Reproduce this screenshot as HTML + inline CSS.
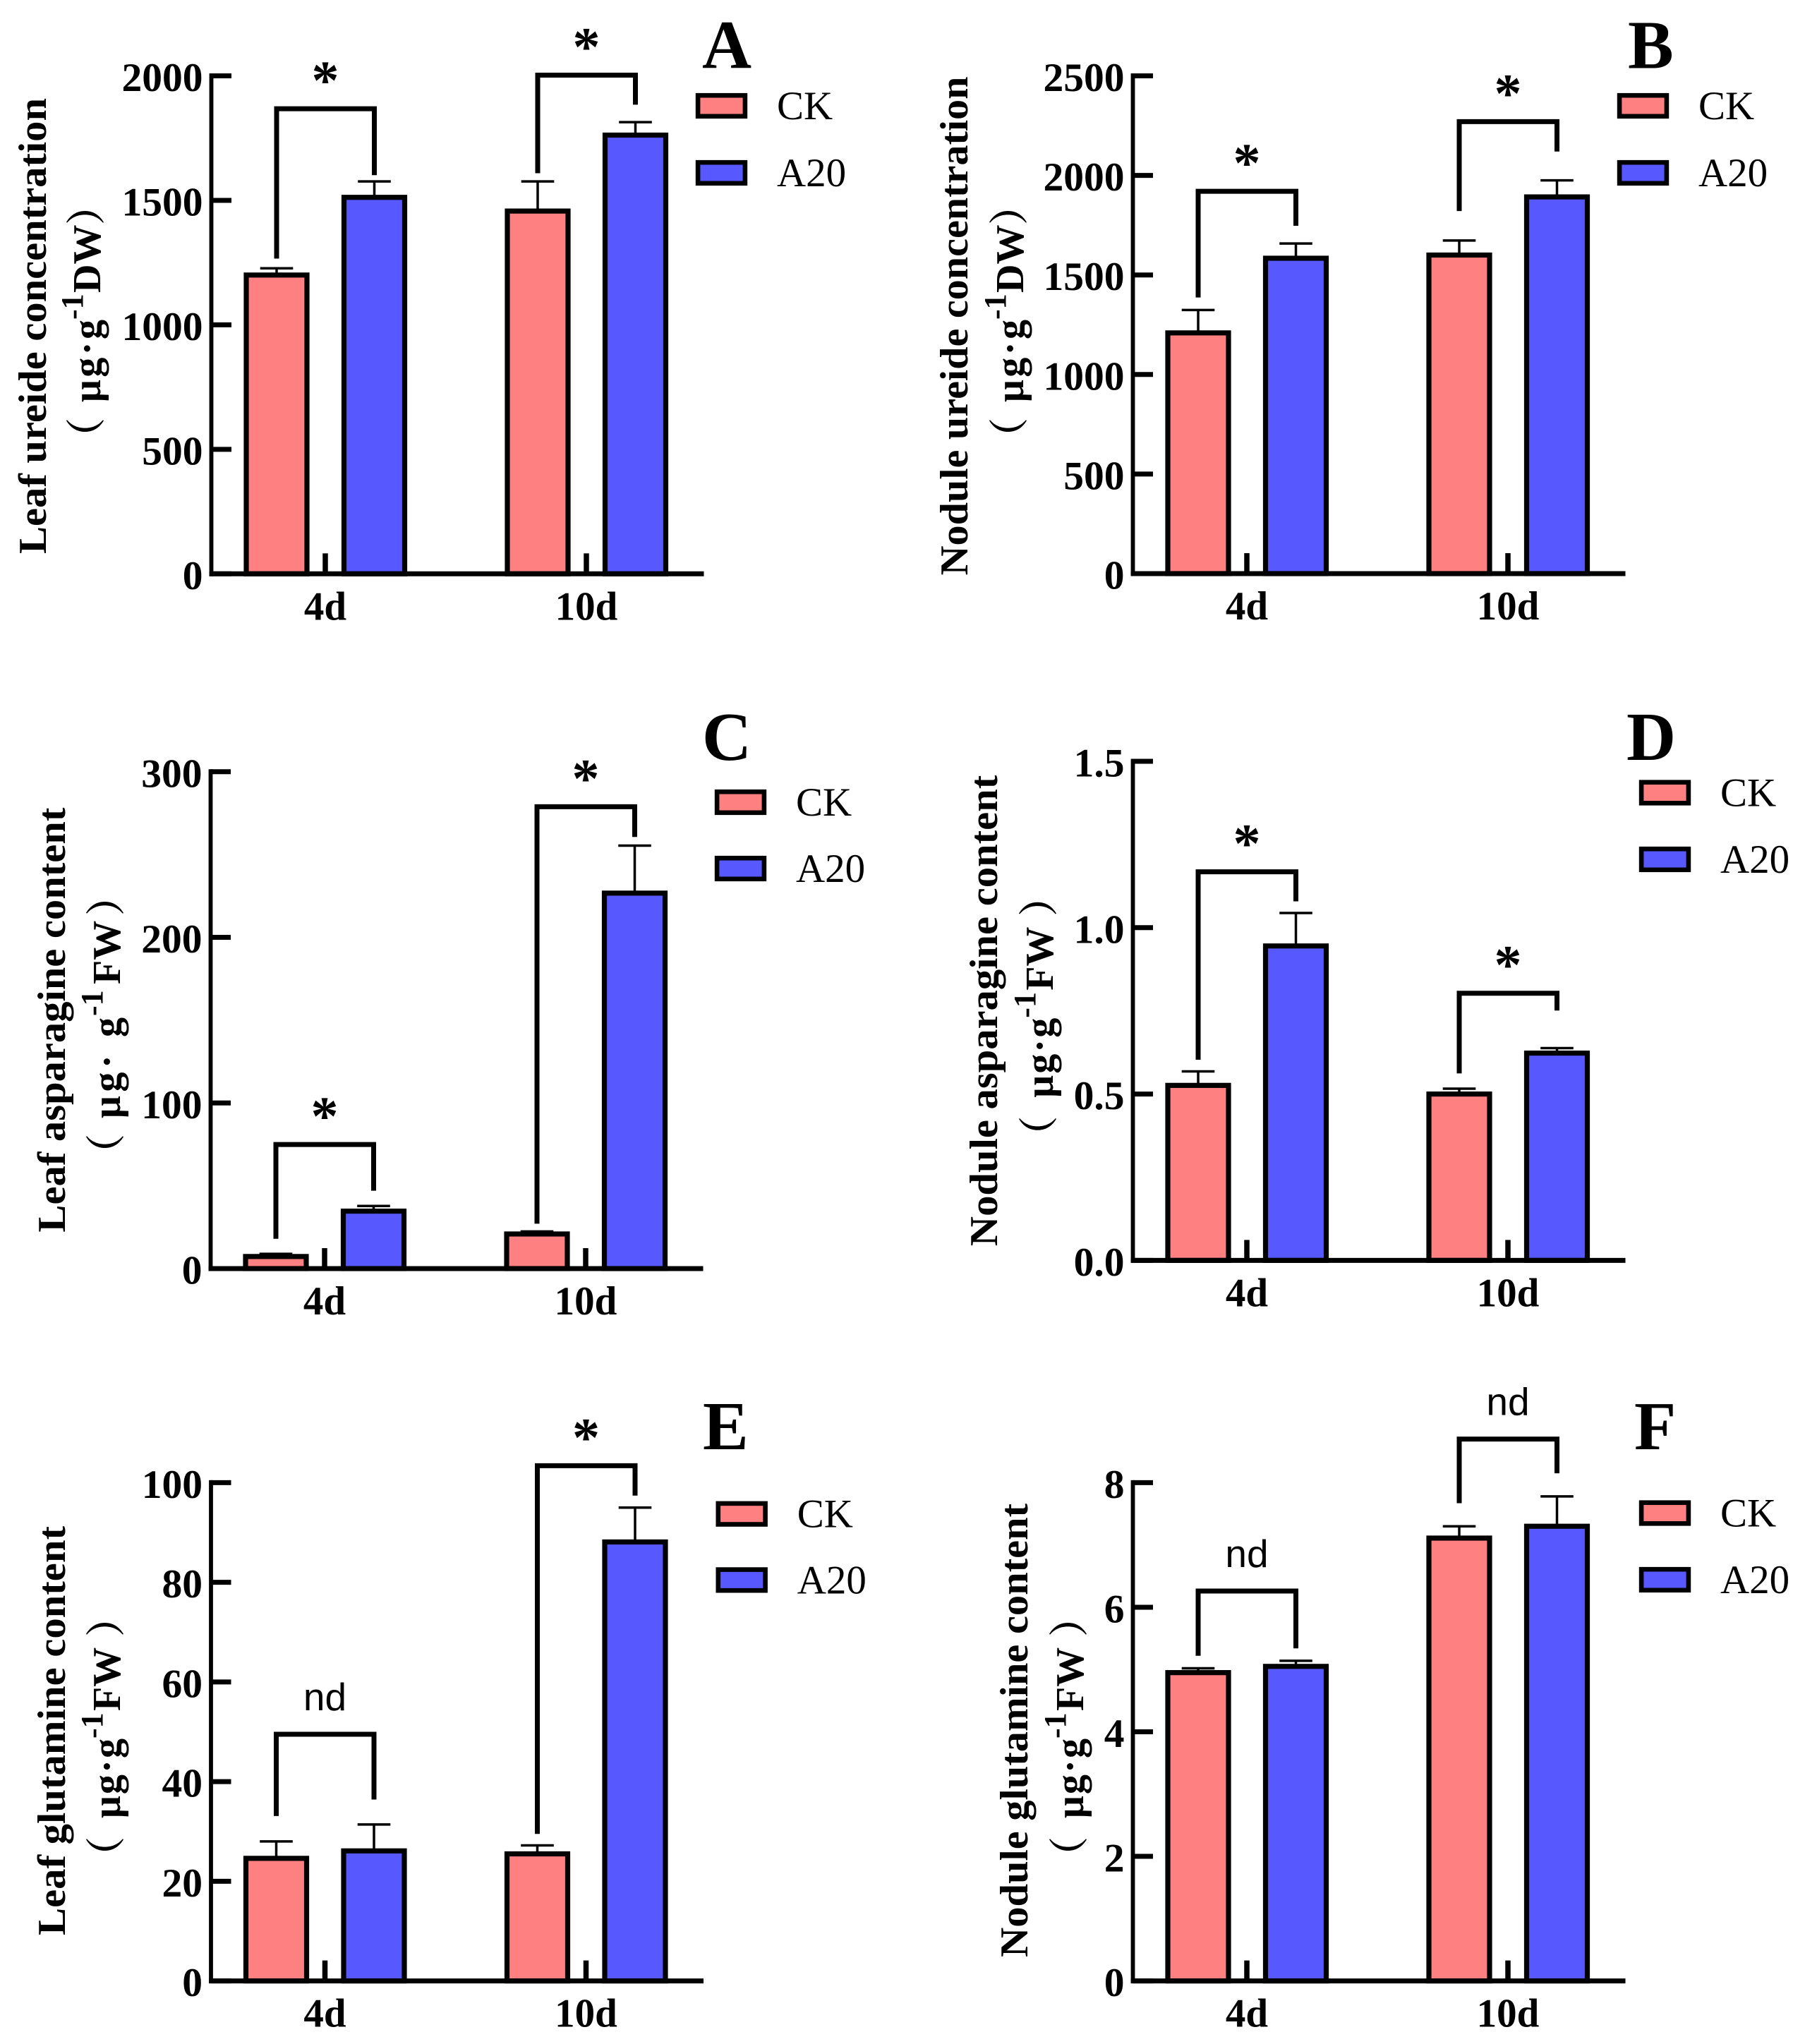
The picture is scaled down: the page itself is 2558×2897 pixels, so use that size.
<!DOCTYPE html>
<html lang="en">
<head>
<meta charset="utf-8">
<title>Ureide, asparagine and glutamine content</title>
<style>
html,body{margin:0;padding:0;background:#fff;}
#figure{display:block;}
text{font-family:"Liberation Serif","Noto Serif CJK SC",serif;fill:#000;}
</style>
</head>
<body>
<svg id="figure" xmlns="http://www.w3.org/2000/svg" width="2558" height="2897" viewBox="0 0 2558 2897"></svg>
<script>
const groups = ['4d', '10d'];
const seriesNames = ['CK', 'A20'];

const ticksA = ['0', '500', '1000', '1500', '2000'];
const ckA = [1200, 1457];
const ckErrA = [27, 119];
const a20A = [1512, 1762];
const a20ErrA = [64, 52];
const bracketTopA = [1868, 2003];
const bracketLeftA = [1266, 1609];
const bracketRightA = [1601, 1884];
const signifA = ['*', '*'];

const ticksB = ['0', '500', '1000', '1500', '2000', '2500'];
const ckB = [1209, 1600];
const ckErrB = [115, 73];
const a20B = [1584, 1892];
const a20ErrB = [74, 83];
const bracketTopB = [1920, 2270];
const bracketLeftB = [1387, 1821];
const bracketRightB = [1747, 2120];
const signifB = ['*', '*'];

const ticksC = ['0', '100', '200', '300'];
const ckC = [7.3, 20.9];
const ckErrC = [1.6, 1.5];
const a20C = [34.7, 226.7];
const a20ErrC = [3.1, 28.7];
const bracketTopC = [74.9, 278.9];
const bracketLeftC = [18, 27.1];
const bracketRightC = [47, 260.6];
const signifC = ['*', '*'];

const ticksD = ['0.0', '0.5', '1.0', '1.5'];
const ckD = [0.526, 0.5];
const ckErrD = [0.042, 0.016];
const a20D = [0.945, 0.623];
const a20ErrD = [0.099, 0.015];
const bracketTopD = [1.168, 0.803];
const bracketLeftD = [0.603, 0.562];
const bracketRightD = [1.079, 0.751];
const signifD = ['*', '*'];

const ticksE = ['0', '20', '40', '60', '80', '100'];
const ckE = [24.6, 25.5];
const ckErrE = [3.4, 1.7];
const a20E = [26.1, 88.1];
const a20ErrE = [5.3, 6.9];
const bracketTopE = [49.5, 103.4];
const bracketLeftE = [33.1, 29.5];
const bracketRightE = [36.4, 97.4];
const signifE = ['nd', '*'];

const ticksF = ['0', '2', '4', '6', '8'];
const ckF = [4.95, 7.11];
const ckErrF = [0.07, 0.19];
const a20F = [5.05, 7.3];
const a20ErrF = [0.09, 0.48];
const bracketTopF = [6.26, 8.7];
const bracketLeftF = [5.22, 7.67];
const bracketRightF = [5.34, 8.15];
const signifF = ['nd', 'nd'];

const COLORS = ['#FF8080', '#5858FF'];
const svg = document.getElementById('figure');
const NS = 'http://www.w3.org/2000/svg';

const UNIT_DW = {mu: '\u03BCg\u00B7g', muAt: 43, muLen: 117, supAt: 160, unit: 'DW', unitAt: 198, closeEnd: 315};
const UNIT_FW = {mu: '\u03BCg\u00B7g', muAt: 47, muLen: 113, supAt: 160, unit: 'FW', unitAt: 199, closeEnd: 325};
const UNIT_FW_SPACED = {mu: '\u03BCg\u00B7 g', muAt: 43, muLen: 143, supAt: 188, unit: 'FW', unitAt: 233, closeEnd: 351};

function mk(tag, attrs, parent, txt) {
  const el = document.createElementNS(NS, tag);
  for (const k in attrs) el.setAttribute(k, attrs[k]);
  if (txt !== undefined) el.textContent = txt;
  parent.appendChild(el);
  return el;
}

function drawPanel(p) {
  const g = mk('g', {}, svg);
  
  

  const max = parseFloat(p.ticks[p.ticks.length - 1]);
  const yScale = v => p.bottom - (v / max) * (p.bottom - p.top);
  const groupX = i => p.ax + 161.5 + i * 370;
  const barX = (i, s) => groupX(i) + (s === 0 ? -69 : 69.5);

  // bars and error bars
  [[p.ck, p.ckErr], [p.a20, p.a20Err]].forEach((series, s) => {
    series[0].forEach((v, i) => {
      const cx = barX(i, s);
      const yTop = yScale(v);
      const yErr = yScale(v + series[1][i]);
      const stem = mk('line', {x1: cx, x2: cx, y1: yTop, y2: yErr, stroke: '#000', 'stroke-width': 3.5}, g);
      
      
      const cap = mk('line', {x1: cx - 23.3, x2: cx + 23.3, y1: yErr, y2: yErr, stroke: '#000', 'stroke-width': 3.5}, g);
      
      
      const bar = mk('rect', {x: cx - 43, y: yTop, width: 86, height: p.bottom - yTop, fill: COLORS[s], stroke: '#000', 'stroke-width': 7.2}, g);
      
      
    });
  });

  // y axis
  const yAxis = mk('line', {x1: p.ax, x2: p.ax, y1: p.top - 3.5, y2: p.bottom + 3.4, stroke: '#000', 'stroke-width': 5.8}, g);
  
  
  p.ticks.forEach(t => {
    const y = yScale(parseFloat(t));
    const tick = mk('line', {x1: p.ax, x2: p.ax + 28.5, y1: y, y2: y, stroke: '#000', 'stroke-width': 7}, g);
    
    
    const lab = mk('text', {x: p.ax - 12, y: y + 21.5, 'text-anchor': 'end', 'font-size': 57.5, 'font-weight': 'bold'}, g, t);
    
    
  });

  // x axis
  const xAxis = mk('line', {x1: p.ax - 2.9, x2: p.ax + 698, y1: p.bottom, y2: p.bottom, stroke: '#000', 'stroke-width': 7}, g);
  
  
  groups.forEach((name, i) => {
    const x = groupX(i);
    const tick = mk('line', {x1: x, x2: x, y1: p.bottom - 29, y2: p.bottom, stroke: '#000', 'stroke-width': 7.5}, g);
    
    
    const lab = mk('text', {x: x, y: p.bottom + 65, 'text-anchor': 'middle', 'font-size': 57, 'font-weight': 'bold'}, g, name);
    
    
  });

  // significance brackets
  groups.forEach((name, i) => {
    const xl = barX(i, 0), xr = barX(i, 1);
    const yt = yScale(p.brTop[i]);
    const br = mk('path', {d: 'M' + xl + ' ' + yScale(p.brLeft[i]) + ' V' + yt + ' H' + xr + ' V' + yScale(p.brRight[i]), fill: 'none', stroke: '#000', 'stroke-width': 7}, g);
    
    
    const mark = p.sig[i];
    const isStar = mark === '*';
    const t = mk('text', {x: groupX(i), y: isStar ? yt - 14 : yt - 34, 'text-anchor': 'middle', 'font-size': isStar ? 78 : 55, 'font-weight': isStar ? 'bold' : 'normal'}, g, mark);
    if (!isStar) t.style.fontFamily = '"Liberation Sans",sans-serif';
    
    
  });

  // y axis title, two rotated lines
  const t1 = mk('text', {transform: 'translate(' + p.t1x + ' ' + p.t1c + ') rotate(-90)', 'text-anchor': 'middle', 'font-size': 56, 'font-weight': 'bold', textLength: p.t1len, lengthAdjust: 'spacingAndGlyphs'}, g, p.title);
  
  
  const u = p.unitStyle;
  const t2 = mk('text', {transform: 'translate(' + p.t2x + ' ' + p.t2y + ') rotate(-90)', 'font-size': 56, 'font-weight': 'bold'}, g);
  
  
  mk('tspan', {x: -35, y: 0}, t2, '\uFF08');
  mk('tspan', {x: u.muAt, y: 0, textLength: u.muLen}, t2, u.mu);
  mk('tspan', {x: u.supAt, y: -25, 'font-size': 44}, t2, '-1');
  mk('tspan', {x: u.unitAt, y: 0}, t2, u.unit);
  mk('tspan', {x: u.closeEnd - 21, y: 0}, t2, '\uFF09');

  // panel letter
  const letter = mk('text', {x: p.lx, y: p.ly, 'font-size': 97, 'font-weight': 'bold'}, g, p.id);
  
  

  // legend
  seriesNames.forEach((name, s) => {
    const y = p.lgY[s];
    const sw = mk('rect', {x: p.lgX + 3.1, y: y + 3.2, width: 66.8, height: 29.6, fill: COLORS[s], stroke: '#000', 'stroke-width': 6.6}, g);
    
    
    const lt = mk('text', {x: p.lgX + 115, y: y + 37, 'font-size': 57}, g, name);
    
    
  });
}

drawPanel({id: 'A', ax: 299.5, top: 107.5, bottom: 813.3, ticks: ticksA, ck: ckA, ckErr: ckErrA, a20: a20A, a20Err: a20ErrA,
  brTop: bracketTopA, brLeft: bracketLeftA, brRight: bracketRightA, sig: signifA,
  title: 'Leaf ureide concentration', t1x: 65, t1c: 462, t1len: 646,
  unitStyle: UNIT_DW, t2x: 142, t2y: 613,
  lx: 995, ly: 96.7, lgX: 986, lgY: [132, 227]});

drawPanel({id: 'B', ax: 1605.5, top: 107.5, bottom: 813, ticks: ticksB, ck: ckB, ckErr: ckErrB, a20: a20B, a20Err: a20ErrB,
  brTop: bracketTopB, brLeft: bracketLeftB, brRight: bracketRightB, sig: signifB,
  title: 'Nodule ureide concentration', t1x: 1371, t1c: 462, t1len: 707,
  unitStyle: UNIT_DW, t2x: 1450, t2y: 613,
  lx: 2307, ly: 96.7, lgX: 2292, lgY: [132, 227]});

drawPanel({id: 'C', ax: 298.5, top: 1093.8, bottom: 1798, ticks: ticksC, ck: ckC, ckErr: ckErrC, a20: a20C, a20Err: a20ErrC,
  brTop: bracketTopC, brLeft: bracketLeftC, brRight: bracketRightC, sig: signifC,
  title: 'Leaf asparagine content', t1x: 92, t1c: 1445.6, t1len: 602,
  unitStyle: UNIT_FW_SPACED, t2x: 170, t2y: 1628,
  lx: 995, ly: 1077, lgX: 1013, lgY: [1119, 1213]});

drawPanel({id: 'D', ax: 1605.5, top: 1079, bottom: 1786.4, ticks: ticksD, ck: ckD, ckErr: ckErrD, a20: a20D, a20Err: a20ErrD,
  brTop: bracketTopD, brLeft: bracketLeftD, brRight: bracketRightD, sig: signifD,
  title: 'Nodule asparagine content', t1x: 1413, t1c: 1432.5, t1len: 667.5,
  unitStyle: UNIT_FW, t2x: 1492, t2y: 1602.7,
  lx: 2305, ly: 1077, lgX: 2323, lgY: [1105.5, 1200]});

drawPanel({id: 'E', ax: 299, top: 2101.4, bottom: 2807.6, ticks: ticksE, ck: ckE, ckErr: ckErrE, a20: a20E, a20Err: a20ErrE,
  brTop: bracketTopE, brLeft: bracketLeftE, brRight: bracketRightE, sig: signifE,
  title: 'Leaf glutamine content', t1x: 92, t1c: 2453, t1len: 580,
  unitStyle: UNIT_FW, t2x: 170, t2y: 2624,
  lx: 996, ly: 2054, lgX: 1014.7, lgY: [2127.7, 2221.4]});

drawPanel({id: 'F', ax: 1605.5, top: 2101.4, bottom: 2807.6, ticks: ticksF, ck: ckF, ckErr: ckErrF, a20: a20F, a20Err: a20ErrF,
  brTop: bracketTopF, brLeft: bracketLeftF, brRight: bracketRightF, sig: signifF,
  title: 'Nodule glutamine content', t1x: 1456, t1c: 2452.5, t1len: 643,
  unitStyle: UNIT_FW, t2x: 1535, t2y: 2624,
  lx: 2316, ly: 2054, lgX: 2323, lgY: [2126.5, 2221]});
</script>
</body>
</html>
